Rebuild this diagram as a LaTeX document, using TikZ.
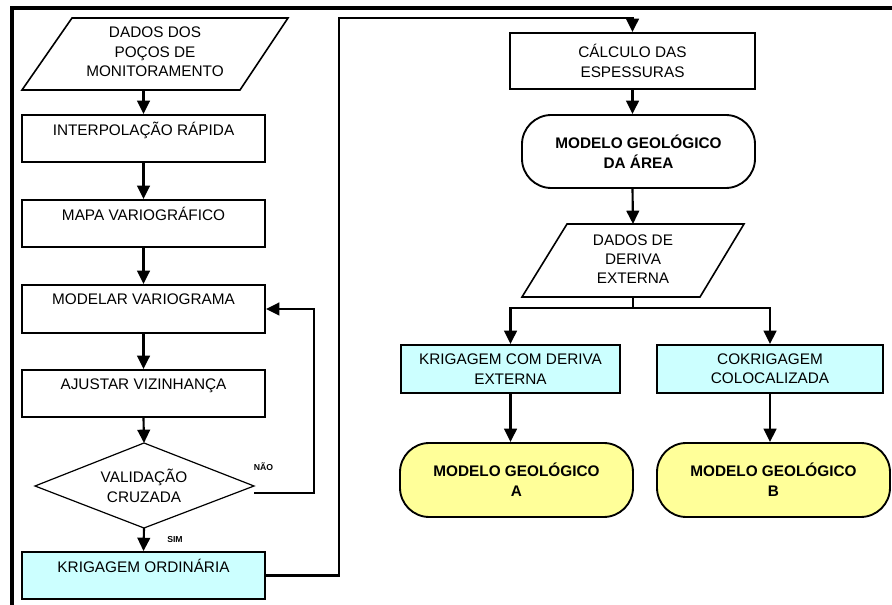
\documentclass[tikz,border=0pt]{standalone}
\usepackage{fontspec}
\setmainfont{Liberation Sans}
\usetikzlibrary{arrows.meta}
\definecolor{boxcyan}{RGB}{204,255,255}
\definecolor{boxyellow}{RGB}{255,255,153}
\begin{document}
\begin{tikzpicture}[x=0.75pt,y=-0.75pt,
  txt/.style={align=center,inner sep=0pt,font=\fontsize{11.5}{14.5}\selectfont},
  btxt/.style={align=center,inner sep=0pt,font=\fontsize{11.5}{15}\selectfont\bfseries},
  procbox/.style={draw,line width=1.4pt,txt,minimum width={#1*0.75pt}},
  procbox/.default=243,
  stadium/.style={draw,line width=1.4pt,btxt,rounded corners=22pt,minimum height={74*0.75pt},minimum width={233*0.75pt}},
  shapeline/.style={draw,line width=1.2pt},
  arr/.style={line width=1.6pt,-{Triangle[length=10pt,width=9.5pt]}},
  conn/.style={line width=1.6pt},
  small/.style={inner sep=0pt,font=\fontsize{6.5}{7}\selectfont\bfseries}
]
\useasboundingbox (0,0) rectangle (892,605);
% frame
\draw[line width=3pt] (12,605) -- (12,8) -- (892,8);

% left column
\draw[shapeline] (72,18) -- (288,18) -- (240,90) -- (22,90) -- cycle;
\node[txt] (p1) at (155,52) {DADOS DOS\\POÇOS DE\\MONITORAMENTO};
\coordinate (p1S) at (143.5,90);

\node[procbox,minimum height={47*0.75pt}] (interp) at (143.5,138.5) {INTERPOLAÇÃO RÁPIDA\\[0pt]~};
\node[procbox,minimum height={47*0.75pt}] (mapa) at (143.5,223.5) {MAPA VARIOGRÁFICO\\[0pt]~};
\node[procbox,minimum height={48*0.75pt}] (modelar) at (143.5,309) {MODELAR VARIOGRAMA\\[0pt]~};
\node[procbox,minimum height={47*0.75pt}] (ajustar) at (143.5,393.5) {AJUSTAR VIZINHANÇA\\[0pt]~};

\coordinate (valN) at (144,443);
\coordinate (valE) at (254,486);
\coordinate (valS) at (144,528);
\coordinate (valW) at (35,486);
\draw[line width=0.9pt] (valN) -- (valE) -- (valS) -- (valW) -- cycle;
\node[txt] (val) at (144,486) {VALIDAÇÃO\\CRUZADA};

\node[procbox,fill=boxcyan,minimum height={47*0.75pt}] (krig) at (143.5,575.5) {KRIGAGEM ORDINÁRIA\\[0pt]~};

\draw[arr] (p1S) -- (interp.north);
\draw[arr] (interp) -- (mapa);
\draw[arr] (mapa) -- (modelar);
\draw[arr] (modelar) -- (ajustar);
\draw[arr] (ajustar.south) -- (valN);
\draw[arr] (valS) -- (krig.north);

\coordinate (loopx) at (314,0);
\draw[arr] ([yshift=-5]valE) -- ([yshift=-5]valE -| loopx) |- (modelar.east);
\node[small] (nao) at (263.5,467) {NÃO};
\node[small] (sim) at (175,540) {SIM};

% right column
\node[procbox=245,minimum height={56*0.75pt}] (calc) at (632.5,61) {CÁLCULO DAS\\ESPESSURAS};
\coordinate (c1) at (339,18);
\draw[arr] (krig.east) -| (c1) -| (calc.north);

\node[stadium,minimum width={233*0.75pt},minimum height={73*0.75pt}] (area) at (638.5,151.5) {MODELO GEOLÓGICO\\DA ÁREA};
\draw[arr] (calc.south) -- (calc.south |- area.north);

\draw[shapeline] (567,224) -- (744,224) -- (700,297) -- (522,297) -- cycle;
\node[txt] (p2) at (633,259) {DADOS DE\\DERIVA\\EXTERNA};
\coordinate (p2N) at (633,224);
\coordinate (p2S) at (633,297);
\draw[arr] (calc.south |- area.south) -- (p2N);

\node[procbox=219,fill=boxcyan,minimum height={48*0.75pt}] (kde) at (510.5,369) {KRIGAGEM COM DERIVA\\EXTERNA};
\node[procbox=226,fill=boxcyan,minimum height={48*0.75pt}] (cok) at (770,369) {COKRIGAGEM\\COLOCALIZADA};

\coordinate (split) at (633,308);
\draw[conn] (p2S) -- (split);
\draw[arr] (split) -| (kde.north);
\draw[arr] (split) -| (cok.north);

\node[stadium,fill=boxyellow] (ma) at (516.5,480) {MODELO GEOLÓGICO\\A};
\node[stadium,fill=boxyellow] (mb) at (773.5,480) {MODELO GEOLÓGICO\\B};
\draw[arr] (kde.south) -- (kde.south |- ma.north);
\draw[arr] (cok.south) -- (cok.south |- mb.north);
\end{tikzpicture}
\end{document}
